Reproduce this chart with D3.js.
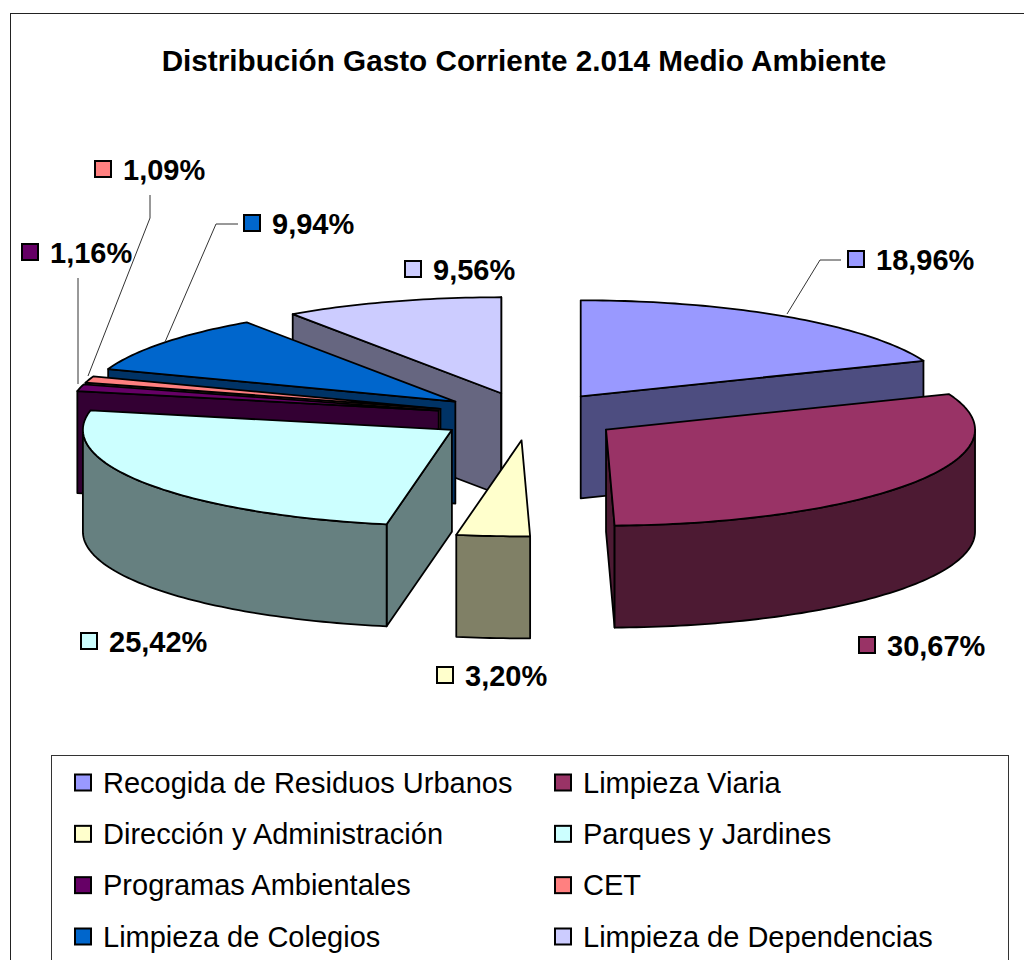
<!DOCTYPE html>
<html>
<head>
<meta charset="utf-8">
<script src="https://cdn.jsdelivr.net/npm/d3@7"></script>
<style>
  html, body { margin: 0; padding: 0; background: #fff; }
  svg { display: block; }
  text { font-family: "Liberation Sans", Arial, sans-serif; fill: #000; }
</style>
</head>
<body>
<svg width="1024" height="960"></svg>
<script>
// Data
const categories = [
  "Recogida de Residuos Urbanos", "Limpieza Viaria",
  "Dirección y Administración", "Parques y Jardines",
  "Programas Ambientales", "CET",
  "Limpieza de Colegios", "Limpieza de Dependencias"
];
const values = [18.96, 30.67, 3.20, 25.42, 1.16, 1.09, 9.94, 9.56];
const colors = ["#9999FF", "#993366", "#FFFFCC", "#CCFFFF", "#660066", "#FF8080", "#0066CC", "#CCCCFF"];

// Layout: where each percent label sits, and the leader line elbows
const labelPos = [
  [847, 250], [858, 636], [436, 666], [80, 632],
  [21, 243], [94, 160], [243, 214], [404, 260]
];
const leaders = [
  [[841, 260], [820, 260], [787, 314]],
  null,
  null,
  null,
  [[78, 278], [78, 384]],
  [[150, 195], [150, 218], [88, 376]],
  [[238, 224], [216, 224], [165, 342]],
  null
];

const title = "Distribución Gasto Corriente 2.014 Medio Ambiente";

const svg = d3.select("svg");

// chart frame
svg.append("rect")
   .attr("x", 10.5).attr("y", 13.5)
   .attr("width", 1040).attr("height", 980)
   .attr("fill", "#fff").attr("stroke", "#222").attr("stroke-width", 1);

svg.append("text")
   .attr("x", 524).attr("y", 71)
   .attr("text-anchor", "middle")
   .attr("font-size", 29.7).attr("font-weight", "bold")
   .text(title);

// The pie is a flat ellipse: x/y scales take unit circle coords to the page
const rx = 369, ry = 96, depth = 102, explode = 0.2512;
const x = d3.scaleLinear().domain([-1, 1]).range([528.7 - rx, 528.7 + rx]);
const y = d3.scaleLinear().domain([-1, 1]).range([416.3 + ry, 416.3 - ry]);

const slices = d3.pie().sort(null).value(d => d)(values).map((s, i) => {
  const mid = (s.startAngle + s.endAngle) / 2;
  return {
    ...s, i, mid,
    ox: explode * Math.sin(mid),
    oy: explode * Math.cos(mid),
    color: colors[i],
    wall: (c => d3.rgb(c.r / 2, c.g / 2, c.b / 2).formatHex())(d3.rgb(colors[i]))
  };
});

const line = d3.line().x(d => x(d[0])).y(d => y(d[1]) + (d[2] || 0));

function rim(s, a0, a1, drop) {
  const n = Math.max(2, Math.ceil((a1 - a0) / 0.02));
  return d3.range(n + 1).map(k => {
    const a = a0 + (a1 - a0) * k / n;
    return [s.ox + Math.sin(a), s.oy + Math.cos(a), drop];
  });
}

function wallPath(s, a) {
  const apex = [s.ox, s.oy], edge = [s.ox + Math.sin(a), s.oy + Math.cos(a)];
  return line([[...apex, 0], [...edge, 0], [...edge, depth], [...apex, depth]]) + "Z";
}

// back to front
const order = slices.slice().sort((a, b) => b.oy - a.oy);

const pieG = svg.append("g")
   .attr("stroke", "#000").attr("stroke-width", 1.8).attr("stroke-linejoin", "round");

order.forEach(s => {
  const g = pieG.append("g");
  if (Math.sin(s.startAngle) < 0) {
    g.append("path").attr("d", wallPath(s, s.startAngle)).attr("fill", s.wall);
  }
  if (Math.sin(s.endAngle) > 0) {
    g.append("path").attr("d", wallPath(s, s.endAngle)).attr("fill", s.wall);
  }
  // outer side only shows on the front half
  const a0 = Math.max(s.startAngle, Math.PI / 2);
  const a1 = Math.min(s.endAngle, Math.PI * 1.5);
  if (a1 > a0) {
    const top = rim(s, a0, a1, 0);
    const bottom = rim(s, a0, a1, depth).reverse();
    g.append("path").attr("d", line(top.concat(bottom)) + "Z").attr("fill", s.wall);
  }
  const face = [[s.ox, s.oy, 0]].concat(rim(s, s.startAngle, s.endAngle, 0));
  g.append("path").attr("d", line(face) + "Z").attr("fill", s.color);
});

// leader lines
svg.append("g").selectAll("path")
   .data(leaders.filter(d => d))
   .enter()
   .append("path")
   .attr("d", d3.line())
   .attr("fill", "none").attr("stroke", "#333").attr("stroke-width", 1);

// percent labels
const fmt = v => v.toFixed(2).replace(".", ",") + "%";
const label = svg.append("g").selectAll("g")
   .data(values)
   .enter()
   .append("g")
   .attr("transform", (d, i) => `translate(${labelPos[i][0]},${labelPos[i][1]})`);

label.append("rect")
   .attr("x", 1).attr("y", 1).attr("width", 16).attr("height", 16)
   .attr("fill", (d, i) => colors[i]).attr("stroke", "#000").attr("stroke-width", 2);

label.append("text")
   .attr("x", 29).attr("y", 20)
   .attr("font-size", 29).attr("font-weight", "bold")
   .text(fmt);

// legend
svg.append("rect")
   .attr("x", 51.5).attr("y", 755.5)
   .attr("width", 957).attr("height", 240)
   .attr("fill", "#fff").attr("stroke", "#333").attr("stroke-width", 1);

const rowY = d3.scalePoint().domain(d3.range(4)).range([782.5, 936.5]);
const colX = d3.scalePoint().domain(d3.range(2)).range([74, 554]);

const legend = svg.append("g").selectAll("g")
   .data(categories)
   .enter()
   .append("g")
   .attr("transform", (d, i) => `translate(${colX(i % 2)},${rowY(Math.floor(i / 2))})`);

legend.append("rect")
   .attr("x", 1).attr("y", -8).attr("width", 16).attr("height", 16)
   .attr("fill", (d, i) => colors[i]).attr("stroke", "#000").attr("stroke-width", 2);

legend.append("text")
   .attr("x", 29).attr("y", 10)
   .attr("font-size", 29)
   .text(d => d);
</script>
</body>
</html>
